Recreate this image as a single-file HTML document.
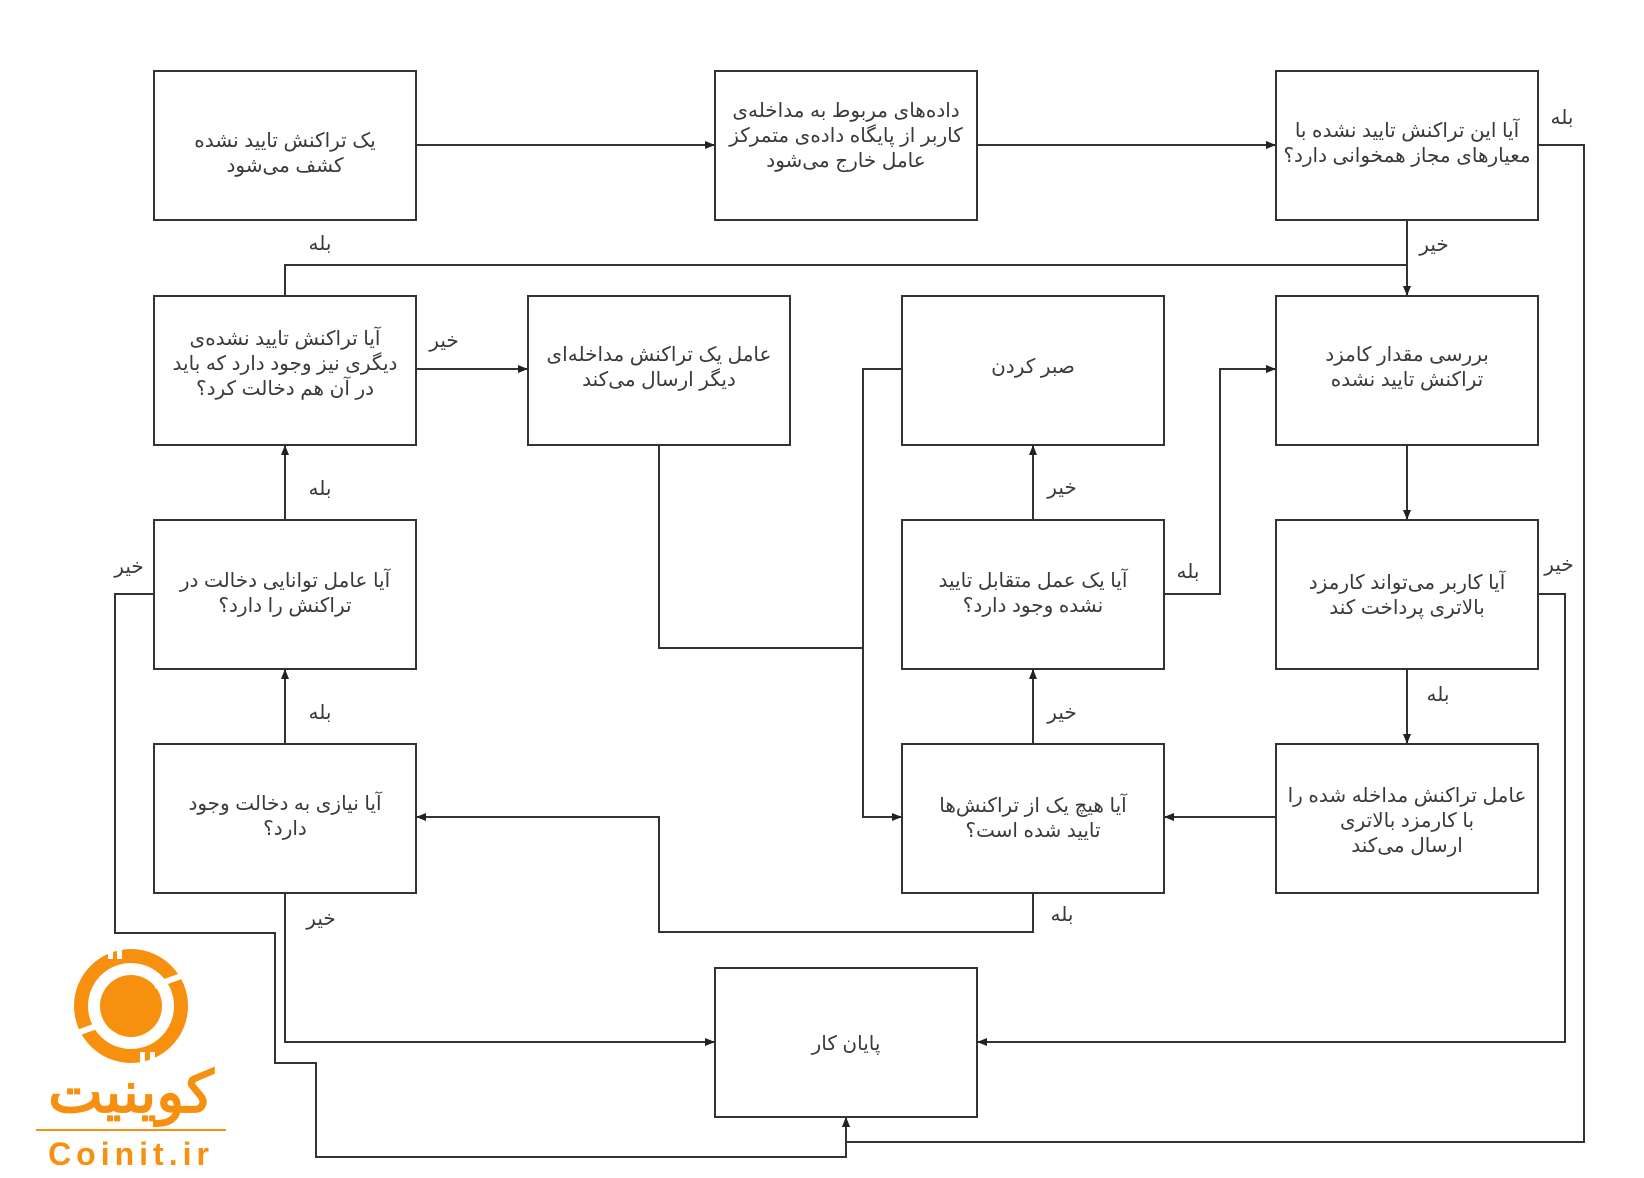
<!DOCTYPE html>
<html><head><meta charset="utf-8"><style>
html,body{margin:0;padding:0;background:#fff}
svg{display:block}
.b{fill:#fff;stroke:#333;stroke-width:2}
.l{fill:none;stroke:#333;stroke-width:2}
text{font-family:"Liberation Sans","Noto Sans CJK SC","DejaVu Sans",sans-serif;font-size:20px;fill:#3a3a3a;direction:rtl;text-anchor:middle}
</style></head><body>
<svg width="1644" height="1178" viewBox="0 0 1644 1178" xmlns="http://www.w3.org/2000/svg">
<defs><marker id="a" markerWidth="10" markerHeight="8" refX="9" refY="4" orient="auto" markerUnits="userSpaceOnUse"><path d="M0,0 L10,4 L0,8 z" fill="#222"/></marker></defs>
<rect class="b" x="154" y="71" width="262" height="149"/>
<rect class="b" x="715" y="71" width="262" height="149"/>
<rect class="b" x="1276" y="71" width="262" height="149"/>
<rect class="b" x="154" y="296" width="262" height="149"/>
<rect class="b" x="528" y="296" width="262" height="149"/>
<rect class="b" x="902" y="296" width="262" height="149"/>
<rect class="b" x="1276" y="296" width="262" height="149"/>
<rect class="b" x="154" y="520" width="262" height="149"/>
<rect class="b" x="902" y="520" width="262" height="149"/>
<rect class="b" x="1276" y="520" width="262" height="149"/>
<rect class="b" x="154" y="744" width="262" height="149"/>
<rect class="b" x="902" y="744" width="262" height="149"/>
<rect class="b" x="1276" y="744" width="262" height="149"/>
<rect class="b" x="715" y="968" width="262" height="149"/>
<path class="l" d="M416,145 H714" marker-end="url(#a)"/>
<path class="l" d="M977,145 H1275" marker-end="url(#a)"/>
<path class="l" d="M1538,145 H1584 V1142 H846 V1118" marker-end="url(#a)"/>
<path class="l" d="M1407,220 V295" marker-end="url(#a)"/>
<path class="l" d="M1407,265 H285 V296"/>
<path class="l" d="M416,369 H527" marker-end="url(#a)"/>
<path class="l" d="M659,445 V648 H863"/>
<path class="l" d="M902,369 H863 V817 H901" marker-end="url(#a)"/>
<path class="l" d="M1033,520 V446" marker-end="url(#a)"/>
<path class="l" d="M1164,594 H1220 V369 H1275" marker-end="url(#a)"/>
<path class="l" d="M1407,445 V519" marker-end="url(#a)"/>
<path class="l" d="M1538,594 H1565 V1042 H978" marker-end="url(#a)"/>
<path class="l" d="M1407,669 V743" marker-end="url(#a)"/>
<path class="l" d="M1276,817 H1165" marker-end="url(#a)"/>
<path class="l" d="M1033,744 V670" marker-end="url(#a)"/>
<path class="l" d="M1033,893 V932 H659 V817 H417" marker-end="url(#a)"/>
<path class="l" d="M285,744 V670" marker-end="url(#a)"/>
<path class="l" d="M285,520 V446" marker-end="url(#a)"/>
<path class="l" d="M154,594 H115 V933 H275 V1063 H316 V1157 H846 V1118" marker-end="url(#a)"/>
<path class="l" d="M285,893 V1042 H714" marker-end="url(#a)"/>
<text x="285" y="147">یک تراکنش تایید نشده</text><text x="285" y="172">کشف می‌شود</text>
<text x="846" y="117">داده‌های مربوط به مداخله‌ی</text><text x="846" y="142">کاربر از پایگاه داده‌ی متمرکز</text><text x="846" y="167">عامل خارج می‌شود</text>
<text x="1407" y="137">آیا این تراکنش تایید نشده با</text><text x="1407" y="162">معیارهای مجاز همخوانی دارد؟</text>
<text x="285" y="345">آیا تراکنش تایید نشده‌ی</text><text x="285" y="370">دیگری نیز وجود دارد که باید</text><text x="285" y="395">در آن هم دخالت کرد؟</text>
<text x="659" y="361">عامل یک تراکنش مداخله‌ای</text><text x="659" y="386">دیگر ارسال می‌کند</text>
<text x="1033" y="373">صبر کردن</text>
<text x="1407" y="361">بررسی مقدار کامزد</text><text x="1407" y="386">تراکنش تایید نشده</text>
<text x="285" y="587">آیا عامل توانایی دخالت در</text><text x="285" y="612">تراکنش را دارد؟</text>
<text x="1033" y="587">آیا یک عمل متقابل تایید</text><text x="1033" y="612">نشده وجود دارد؟</text>
<text x="1407" y="589">آیا کاربر می‌تواند کارمزد</text><text x="1407" y="614">بالاتری پرداخت کند</text>
<text x="285" y="810">آیا نیازی به دخالت وجود</text><text x="285" y="835">دارد؟</text>
<text x="1033" y="812">آیا هیچ یک از تراکنش‌ها</text><text x="1033" y="837">تایید شده است؟</text>
<text x="1407" y="802">عامل تراکنش مداخله شده را</text><text x="1407" y="827">با کارمزد بالاتری</text><text x="1407" y="852">ارسال می‌کند</text>
<text x="846" y="1050">پایان کار</text>
<text x="1562" y="124">بله</text>
<text x="1434" y="251">خیر</text>
<text x="320" y="250">بله</text>
<text x="444" y="347">خیر</text>
<text x="1062" y="494">خیر</text>
<text x="1188" y="578">بله</text>
<text x="1559" y="571">خیر</text>
<text x="129" y="573">خیر</text>
<text x="1438" y="701">بله</text>
<text x="320" y="495">بله</text>
<text x="320" y="719">بله</text>
<text x="1062" y="719">خیر</text>
<text x="1062" y="921">بله</text>
<text x="321" y="925">خیر</text>
<g fill="#f7900f">
<circle cx="131" cy="1006" r="57"/>
<circle cx="131" cy="1006" r="43" fill="#fff"/>
<circle cx="131" cy="1006" r="31"/>
<rect x="70" y="1010" width="30" height="6" fill="#fff" transform="rotate(-20 131 1006)"/>
<rect x="160" y="992" width="30" height="6" fill="#fff" transform="rotate(-20 131 1006)"/>
<rect x="108" y="945" width="5" height="14" fill="#fff"/><rect x="117" y="945" width="5" height="14" fill="#fff"/>
<rect x="140" y="1052" width="5" height="14" fill="#fff"/><rect x="150" y="1052" width="5" height="14" fill="#fff"/>
<rect x="36" y="1129" width="190" height="2"/>
</g>
<text x="131" y="1112" style="font-size:58px;font-weight:bold;fill:#f7900f;font-family:'Liberation Sans','Noto Sans CJK SC',sans-serif">کوینیت</text>
<text x="131" y="1165" style="font-size:32px;font-weight:bold;fill:#f7900f;direction:ltr;letter-spacing:5px">Coinit.ir</text>
</svg>
</body></html>
